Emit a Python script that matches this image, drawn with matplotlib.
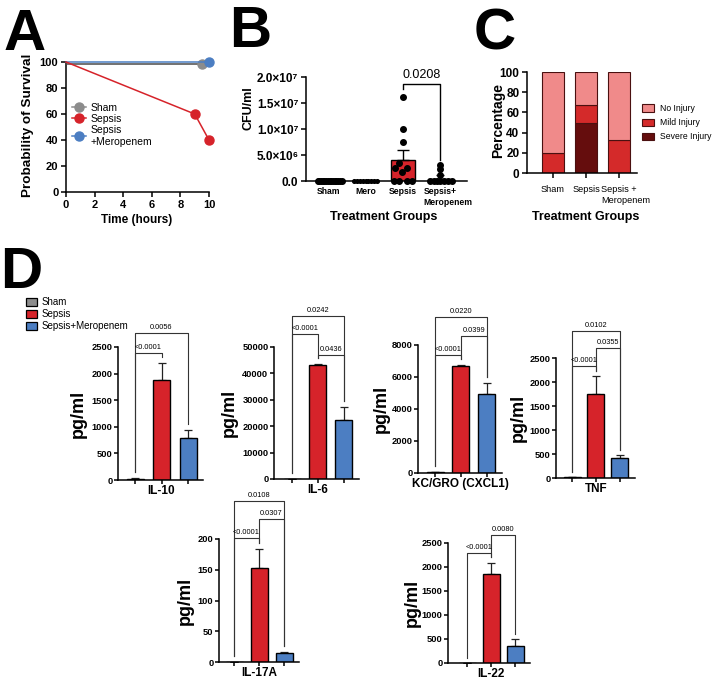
import numpy as np
import matplotlib
matplotlib.use('Agg')
import matplotlib.pyplot as plt
from matplotlib.patches import Patch
from matplotlib.lines import Line2D

plt.rcParams['font.family'] = ['Liberation Sans', 'DejaVu Sans']

W, H = 716, 684

# ---------------- data ----------------
# A: survival (%)
sham_time = [0, 9.5]
sham_surv = [98.5, 98.5]
sepsis_time = [0, 9, 10]
sepsis_surv = [100, 60, 40]
mero_time = [0, 10]
mero_surv = [100, 100]

# B: bacterial load (CFU/ml)
cfu_groups = ['Sham', 'Mero', 'Sepsis', 'Sepsis+\nMeropenem']
cfu_sham = [0] * 15
cfu_mero = [0] * 9
cfu_sepsis = [16.1e6, 10.0e6, 7.5e6, 3.4e6, 2.5e6, 2.5e6, 1.8e6, 0, 0, 0, 0]
cfu_sepsis_mero = [3.1e6, 2.3e6, 1.2e6, 0, 0, 0, 0, 0, 0, 0]
cfu_mean = [0, 0, 4.1e6, 0.45e6]
cfu_sem = [0, 0, 1.8e6, 0.65e6]
cfu_p = '0.0208'

# C: lung injury score (%)
injury_groups = ['Sham', 'Sepsis', 'Sepsis +\nMeropenem']
severe_injury = [0, 50, 0]
mild_injury = [20, 17, 33]
no_injury = [80, 33, 67]

# D: cytokines (pg/ml), order Sham, Sepsis, Sepsis+Meropenem
il10_mean = [25, 1880, 790]
il10_sem = [8, 320, 150]
il6_mean = [80, 43000, 22400]
il6_sem = [20, 500, 4900]
kc_mean = [60, 6690, 4940]
kc_sem = [15, 60, 700]
tnf_mean = [12, 1750, 410]
tnf_sem = [4, 370, 70]
il17a_mean = [0, 153, 14.5]
il17a_sem = [0, 31, 2.5]
il22_mean = [0, 1855, 355]
il22_sem = [0, 235, 145]

GRAY, RED, BLUE = '#8c8c8c', '#d6232a', '#4c7ec2'
NO_C, MILD_C, SEV_C = '#f08a8a', '#d42a2a', '#650d0d'

fig = plt.figure(figsize=(W / 100, H / 100), dpi=100)
renderer = fig.canvas.get_renderer()


def px_axes(left, right, top, bottom):
    return fig.add_axes([left / W, 1 - bottom / H, (right - left) / W, (bottom - top) / H])


def ftext(x, y, s, **kw):
    fig.text(x / W, 1 - y / H, s, **kw)


def style(ax, fs=8, xticks=True, pad=2, length=3.5):
    for s in ['top', 'right']:
        ax.spines[s].set_visible(False)
    for s in ['left', 'bottom']:
        ax.spines[s].set_linewidth(1.1)
    ax.tick_params(direction='out', length=length, width=1.1, pad=pad, labelsize=fs)
    if not xticks:
        ax.tick_params(axis='x', length=0)
    for lab in ax.get_yticklabels():
        lab.set_fontweight('bold')


def cat_labels(ax, labels, fs, weight, pad):
    # first line centred on the tick, a second line starts where the first one does
    for i, lab in enumerate(labels):
        lines = lab.split('\n')
        t = ax.annotate(lines[0], (i, 0), xycoords=('data', 'axes fraction'),
                        xytext=(0, -pad), textcoords='offset points', ha='center',
                        va='top', fontsize=fs, fontweight=weight, annotation_clip=False)
        if len(lines) > 1:
            half = t.get_window_extent(renderer).width / 2 * 72 / fig.dpi
            ax.annotate(lines[1], (i, 0), xycoords=('data', 'axes fraction'),
                        xytext=(-half, -pad - fs * 1.2), textcoords='offset points',
                        ha='left', va='top', fontsize=fs, fontweight=weight,
                        annotation_clip=False)


# panel letters
for letter, x, y in [('A', 4, 50), ('B', 229, 47), ('C', 474, 49), ('D', 0, 288)]:
    ftext(x, y, letter, fontsize=42, fontweight='bold', va='baseline')

# ---------------- A ----------------
ax = px_axes(66, 209, 62, 192)
ax.plot(sham_time, sham_surv, color='#4a4a4a', lw=1.1, marker='o', ms=6.5,
        mfc=GRAY, mec=GRAY, markevery=[1], clip_on=False, zorder=3)
ax.plot(mero_time, mero_surv, color=BLUE, lw=1.1, marker='o', ms=6.5,
        markevery=[1], clip_on=False, zorder=3)
ax.plot(sepsis_time, sepsis_surv, color=RED, lw=1.1, marker='o', ms=6.5,
        markevery=[1, 2], clip_on=False, zorder=4)
ax.set_xlim(0, 10)
ax.set_ylim(0, 100)
ax.set_xticks(range(0, 11, 2))
ax.set_yticks(range(0, 101, 20))
style(ax, fs=8)
for lab in ax.get_xticklabels():
    lab.set_fontweight('bold')
hs = [Line2D([], [], color=c, marker='o', ms=6.5, lw=1.1) for c in [GRAY, RED, BLUE]]
ax.legend(hs, ['Sham', 'Sepsis', 'Sepsis\n+Meropenem'], loc='upper left',
          bbox_to_anchor=(72 / W, 1 - 103 / H), bbox_transform=fig.transFigure,
          frameon=False, fontsize=7.5, borderpad=0, borderaxespad=0,
          handlelength=1.3, handletextpad=0.5, labelspacing=0.1)
ftext(28, 125, 'Probability of Survival', rotation=90, ha='center', va='center',
      fontsize=9.7, fontweight='bold')
ftext(137, 220, 'Time (hours)', ha='center', va='center', fontsize=8.5, fontweight='bold')

# ---------------- B ----------------
ax = px_axes(306, 467, 77, 181)
ax.set_xlim(-0.59, 3.71)
ax.set_ylim(0, 2e7)
xb = np.arange(4)
ax.bar(xb, cfu_mean, width=0.64, color=['white', 'white', RED, 'white'],
       edgecolor='black', linewidth=1, zorder=2)
ax.errorbar([2], [cfu_mean[2]], yerr=[[0], [cfu_sem[2]]], fmt='none', ecolor='black',
            elinewidth=1, capsize=4.3, capthick=1, zorder=2)
ax.errorbar([3], [cfu_mean[3]], yerr=[[0], [cfu_sem[3]]], fmt='none', ecolor='black',
            elinewidth=1, capsize=3, capthick=1, zorder=2)
ax.scatter(0 + np.linspace(-0.28, 0.36, len(cfu_sham)), cfu_sham, s=16, color='black',
           zorder=3, clip_on=False)
ax.scatter(1 + np.linspace(-0.3, 0.3, len(cfu_mero)), cfu_mero, s=7, color='black',
           zorder=3, clip_on=False)
sep_jit = [0, 0, 0, -0.11, -0.21, 0.12, -0.02, -0.24, -0.11, 0.12, 0.25]
ax.scatter(2 + np.array(sep_jit), cfu_sepsis, s=16, color='black', zorder=3, clip_on=False)
sm_jit = [0, 0, 0, -0.27, -0.18, -0.09, 0.0, 0.1, 0.2, 0.3]
ax.scatter(3 + np.array(sm_jit), cfu_sepsis_mero, s=16, color='black', zorder=3, clip_on=False)
lvl = 18.65e6
ax.plot([2, 2, 3, 3], [max(cfu_sepsis) + 1.5e6, lvl, lvl, max(cfu_sepsis_mero) + 0.9e6],
        color='black', lw=1, clip_on=False)
ax.annotate(cfu_p, (2.5, lvl), xytext=(0, 2.5), textcoords='offset points',
            ha='center', va='bottom', fontsize=9, annotation_clip=False)
ax.set_yticks([0, 5e6, 1e7, 1.5e7, 2e7])
ax.set_yticklabels(['0.0', '5.0×10⁶', '1.0×10⁷', '1.5×10⁷', '2.0×10⁷'])
ax.set_xticks(xb)
ax.set_xticklabels([])
style(ax, fs=8.5, xticks=False)
cat_labels(ax, cfu_groups, 6.2, 'bold', 4.5)
ftext(248, 108, 'CFU/ml', rotation=90, ha='center', va='center', fontsize=9, fontweight='bold')
ftext(384, 217, 'Treatment Groups', ha='center', va='center', fontsize=9, fontweight='bold')

# ---------------- C ----------------
ax = px_axes(527, 637, 72, 173)
ax.set_xlim(-0.79, 2.55)
ax.set_ylim(0, 100)
xc = np.arange(3)
ec = '#4a1010'
ax.bar(xc, severe_injury, width=0.67, color=SEV_C, edgecolor=ec, lw=0.8)
ax.bar(xc, mild_injury, bottom=severe_injury, width=0.67, color=MILD_C, edgecolor=ec, lw=0.8)
ax.bar(xc, no_injury, bottom=np.add(severe_injury, mild_injury), width=0.67, color=NO_C,
       edgecolor=ec, lw=0.8)
ax.set_yticks(range(0, 101, 20))
ax.set_xticks(xc)
ax.set_xticklabels([])
style(ax, fs=8.5)
cat_labels(ax, injury_groups, 6.6, 'normal', 8.5)
hs = [Patch(facecolor=c, edgecolor=ec, lw=0.8) for c in [NO_C, MILD_C, SEV_C]]
ax.legend(hs, ['No Injury', 'Mild Injury', 'Severe Injury'], loc='upper left',
          bbox_to_anchor=(642 / W, 1 - 104 / H), bbox_transform=fig.transFigure,
          frameon=False, fontsize=6.2, borderpad=0, borderaxespad=0,
          handlelength=1.4, handleheight=0.9, handletextpad=0.7, labelspacing=0.6)
ftext(498, 120, 'Percentage', rotation=90, ha='center', va='center', fontsize=10, fontweight='bold')
ftext(586, 217, 'Treatment Groups', ha='center', va='center', fontsize=9, fontweight='bold')

# ---------------- D ----------------
# name, mean, sem, ymax, step, y-axis px, sham px, spacing px, zero px, top px,
# ylabel px, brackets
cyto_panels = [
    ('IL-10', il10_mean, il10_sem, 2500, 500, 118, 135, 26.5, 480, 347, 78,
     [(0, 1, '<0.0001', 2387), (0, 2, '0.0056', 2763)]),
    ('IL-6', il6_mean, il6_sem, 50000, 10000, 274, 292, 25.75, 479, 347, 229,
     [(1, 2, '0.0436', 46970), (0, 1, '<0.0001', 54924), (0, 2, '0.0242', 61742)]),
    ('KC/GRO (CXCL1)', kc_mean, kc_sem, 8000, 2000, 418, 435, 25.75, 473, 345, 381,
     [(0, 1, '<0.0001', 7375), (1, 2, '0.0399', 8563), (0, 2, '0.0220', 9750)]),
    ('TNF', tnf_mean, tnf_sem, 2500, 500, 556, 572, 23.75, 478, 358, 518,
     [(0, 1, '<0.0001', 2333), (1, 2, '0.0355', 2708), (0, 2, '0.0102', 3062)]),
    ('IL-17A', il17a_mean, il17a_sem, 200, 50, 219, 234, 25, 662, 539, 185,
     [(0, 1, '<0.0001', 202), (1, 2, '0.0307', 233), (0, 2, '0.0108', 262)]),
    ('IL-22', il22_mean, il22_sem, 2500, 500, 448, 467, 24, 663, 543, 412,
     [(0, 1, '<0.0001', 2292), (1, 2, '0.0080', 2667)]),
]

for name, mean, sem, ymax, step, left, c0, sp, y0, y1, lab_x, brackets in cyto_panels:
    right = c0 + 2 * sp + 15
    ax = px_axes(left, right, y1, y0)
    ax.set_xlim(-(c0 - left) / sp, (right - c0) / sp)
    ax.set_ylim(0, ymax)
    x = np.arange(3)
    ax.bar(x, mean, width=17 / sp, color=[GRAY, RED, BLUE], edgecolor='black', lw=1, zorder=2)
    ax.errorbar(x, mean, yerr=[[0, 0, 0], sem], fmt='none', ecolor='#222222',
                elinewidth=0.9, capsize=2.6, capthick=0.9, zorder=1)
    gap = 0.045 * ymax
    tops = np.add(mean, sem) + gap
    for i, j, lab, h in brackets:
        ax.plot([i, i, j, j], [tops[i], h, h, tops[j]], color='#333333', lw=0.8, clip_on=False)
        ax.annotate(lab, ((i + j) / 2, h), xytext=(0, 1.5), textcoords='offset points',
                    ha='center', va='bottom', fontsize=5.3, annotation_clip=False)
    ax.set_yticks(np.arange(0, ymax + 1, step))
    ax.set_xticks(x)
    ax.set_xticklabels([])
    style(ax, fs=6.7, pad=1, length=3)
    ftext(c0 + sp, y0 + 11, name, ha='center', va='center', fontsize=8.5, fontweight='bold')
    ftext(lab_x, (y0 + y1) / 2, 'pg/ml', rotation=90, ha='center', va='center',
          fontsize=13, fontweight='bold')

hs = [Patch(facecolor=c, edgecolor='black', lw=0.9) for c in [GRAY, RED, BLUE]]
fig.legend(hs, ['Sham', 'Sepsis', 'Sepsis+Meropenem'], loc='upper left',
           bbox_to_anchor=(26 / W, 1 - 297 / H), frameon=False, fontsize=7,
           borderpad=0, borderaxespad=0, handlelength=1.1, handleheight=0.9,
           handletextpad=0.5, labelspacing=0.2)

fig.savefig('out.png', dpi=100)
